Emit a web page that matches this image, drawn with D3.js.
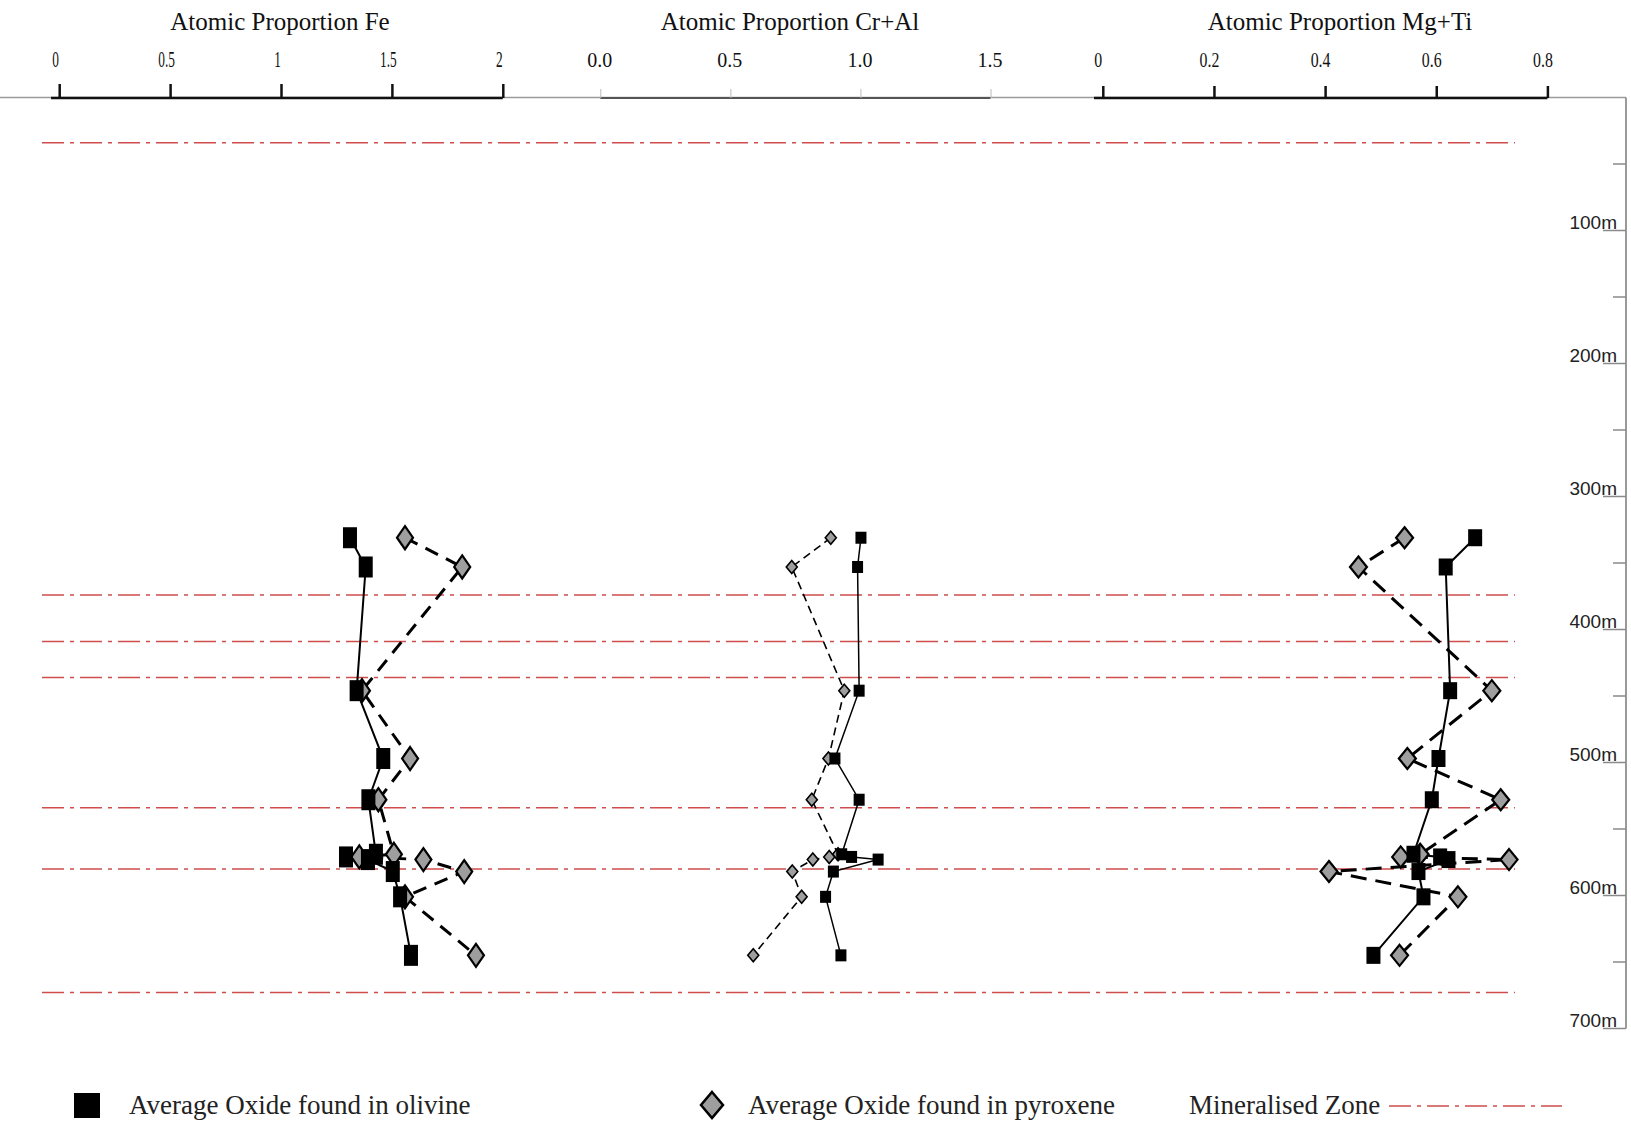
<!DOCTYPE html>
<html><head><meta charset="utf-8">
<script src="https://cdn.jsdelivr.net/npm/d3@7"></script>
<style>
html,body{margin:0;padding:0;background:#fff;}
svg{display:block;}
</style></head>
<body>
<svg id="chart" width="1631" height="1124"></svg>
<script>
// ---- data ----
const depths = [331, 353, 446, 497, 528, 569, 571, 573, 582, 601, 645];
const feOlivine = [1.311, 1.382, 1.341, 1.461, 1.394, 1.428, 1.293, 1.392, 1.504, 1.537, 1.586];
const fePyroxene = [1.559, 1.817, 1.365, 1.582, 1.439, 1.509, 1.353, 1.642, 1.826, 1.559, 1.879];
const crAlOlivine = [1.002, 0.989, 0.995, 0.902, 0.995, 0.928, 0.966, 1.068, 0.896, 0.866, 0.925];
const crAlPyroxene = [0.886, 0.736, 0.938, 0.877, 0.813, 0.914, 0.880, 0.817, 0.738, 0.774, 0.588];
const mgTiOlivine = [0.670, 0.617, 0.625, 0.604, 0.592, 0.559, 0.607, 0.622, 0.568, 0.577, 0.487];
const mgTiPyroxene = [0.543, 0.460, 0.700, 0.548, 0.716, 0.571, 0.536, 0.731, 0.407, 0.639, 0.534];
const mineralisedZones = [34, 374, 409, 436, 534, 580, 673];
const feTicks = [0, 0.5, 1, 1.5, 2];
const crAlTicks = [0, 0.5, 1.0, 1.5];
const mgTiTicks = [0, 0.2, 0.4, 0.6, 0.8];
const depthMajor = [100, 200, 300, 400, 500, 600, 700];
const depthMinor = [50, 150, 250, 350, 450, 550, 650];
const titles = ["Atomic Proportion Fe", "Atomic Proportion Cr+Al", "Atomic Proportion Mg+Ti"];
const legendLabels = ["Average Oxide found in olivine", "Average Oxide found in pyroxene", "Mineralised Zone"];

const svg = d3.select("#chart");
const serif = "'Liberation Serif','Times New Roman',serif";
const sans = "'Liberation Sans',Arial,sans-serif";

const y = d3.scaleLinear().domain([0, 700]).range([97.5, 1028.5]);

const panels = [
  {title: titles[0], scale: d3.scaleLinear().domain([0, 2]).range([59.2, 502.8]), ticks: feTicks,
   fmt: d3.format(""), olivine: feOlivine, pyroxene: fePyroxene, titleX: 280,
   axisStart: 51, axisW: 2.5, axisColor: "#111", tickLen: 14, tickColor: "#111", tickW: 2.5,
   lblSize: 23, lblScale: 0.58, lblDx: -4,
   sq: [14, 21], di: [16, 23], olW: 2, pxW: 3, pxDash: "14,9", diStroke: 2.2},
  {title: titles[1], scale: d3.scaleLinear().domain([0, 1.5]).range([600.3, 990.5]), ticks: crAlTicks,
   fmt: d3.format(".1f"), olivine: crAlOlivine, pyroxene: crAlPyroxene, titleX: 790,
   axisStart: 600.3, axisW: 2, axisColor: "#555", tickLen: 9, tickColor: "#bbb", tickW: 1,
   lblSize: 20, lblScale: 1, lblDx: -1,
   sq: [11, 12], di: [11, 13], olW: 1.5, pxW: 1.6, pxDash: "8,5", diStroke: 1.6},
  {title: titles[2], scale: d3.scaleLinear().domain([0, 0.8]).range([1102.8, 1547.4]), ticks: mgTiTicks,
   fmt: d => d === 0 ? "0" : d.toFixed(1), olivine: mgTiOlivine, pyroxene: mgTiPyroxene, titleX: 1340,
   axisStart: 1094, axisW: 2.5, axisColor: "#111", tickLen: 12, tickColor: "#111", tickW: 2.5,
   lblSize: 22, lblScale: 0.72, lblDx: -5,
   sq: [14, 17], di: [17, 21], olW: 2, pxW: 3, pxDash: "16,9", diStroke: 2.2}
];

// top grey line and right depth axis line
svg.append("line").attr("x1", 0).attr("x2", 1626).attr("y1", y(0)).attr("y2", y(0))
  .attr("stroke", "#9a9a9a").attr("stroke-width", 1.6);
svg.append("line").attr("x1", 1626).attr("x2", 1626).attr("y1", y(0)).attr("y2", y(700))
  .attr("stroke", "#9a9a9a").attr("stroke-width", 2);

// depth axis ticks and labels
const dAxis = svg.append("g");
dAxis.selectAll("line.maj").data(depthMajor).join("line").attr("class", "maj")
  .attr("x1", 1603).attr("x2", 1626).attr("y1", d => y(d)).attr("y2", d => y(d))
  .attr("stroke", "#8a8a8a").attr("stroke-width", 1.5);
dAxis.selectAll("line.min").data(depthMinor).join("line").attr("class", "min")
  .attr("x1", 1613).attr("x2", 1626).attr("y1", d => y(d)).attr("y2", d => y(d))
  .attr("stroke", "#8a8a8a").attr("stroke-width", 1.5);
dAxis.selectAll("text").data(depthMajor).join("text")
  .attr("x", 1617).attr("y", d => y(d) - 2).attr("text-anchor", "end")
  .attr("font-family", sans).attr("font-size", 19).attr("fill", "#222")
  .text(d => d + "m");

// mineralised zones
const dashDot = "22,6,4,6";
svg.append("g").selectAll("line").data(mineralisedZones).join("line")
  .attr("x1", 42).attr("x2", 1515).attr("y1", d => y(d)).attr("y2", d => y(d))
  .attr("stroke", "#cf4d4d").attr("stroke-width", 1.5).attr("stroke-dasharray", dashDot);

panels.forEach(p => {
  const g = svg.append("g");
  // title
  g.append("text").attr("x", p.titleX).attr("y", 30).attr("text-anchor", "middle")
    .attr("font-family", serif).attr("font-size", 25).attr("fill", "#111").text(p.title);
  // axis
  const ax = g.append("g").attr("transform", `translate(0,${y(0) + 0.5})`)
    .call(d3.axisTop(p.scale).tickValues(p.ticks).tickFormat(p.fmt).tickSize(p.tickLen).tickSizeOuter(0));
  ax.select(".domain").remove();
  ax.insert("line", ":first-child").attr("x1", p.axisStart).attr("x2", p.scale.range()[1])
    .attr("stroke", p.axisColor).attr("stroke-width", p.axisW);
  ax.selectAll(".tick line").attr("stroke", p.tickColor).attr("stroke-width", p.tickW);
  ax.selectAll(".tick text")
    .attr("y", 0).attr("dy", 0)
    .attr("transform", `translate(${p.lblDx},${66.5 - y(0) - 0.5}) scale(${p.lblScale},1)`)
    .attr("font-family", serif).attr("font-size", p.lblSize).attr("fill", "#111");

  const ol = depths.map((d, i) => [p.scale(p.olivine[i]), y(d)]);
  const px = depths.map((d, i) => [p.scale(p.pyroxene[i]), y(d)]);
  const line = d3.line();
  g.append("path").attr("d", line(px)).attr("fill", "none").attr("stroke", "#000")
    .attr("stroke-width", p.pxW).attr("stroke-dasharray", p.pxDash);
  g.append("path").attr("d", line(ol)).attr("fill", "none").attr("stroke", "#000")
    .attr("stroke-width", p.olW);
  const [dw, dh] = p.di;
  g.selectAll("path.di").data(px).join("path").attr("class", "di")
    .attr("d", d => `M${d[0]},${d[1] - dh / 2}L${d[0] + dw / 2},${d[1]}L${d[0]},${d[1] + dh / 2}L${d[0] - dw / 2},${d[1]}Z`)
    .attr("fill", "#9e9e9e").attr("stroke", "#000").attr("stroke-width", p.diStroke).attr("stroke-linejoin", "miter");
  const [sw, sh] = p.sq;
  g.selectAll("rect.sq").data(ol).join("rect").attr("class", "sq")
    .attr("x", d => d[0] - sw / 2).attr("y", d => d[1] - sh / 2).attr("width", sw).attr("height", sh)
    .attr("fill", "#000");
});

// legend
const lg = svg.append("g");
const lgBase = 1114;
lg.append("rect").attr("x", 74).attr("y", 1093).attr("width", 26).attr("height", 25).attr("fill", "#000");
lg.append("text").attr("x", 129).attr("y", lgBase).attr("font-family", serif).attr("font-size", 27)
  .attr("fill", "#222").text(legendLabels[0]);
const lcx = 712, lcy = 1105;
lg.append("path").attr("d", `M${lcx},${lcy - 13}L${lcx + 11},${lcy}L${lcx},${lcy + 13}L${lcx - 11},${lcy}Z`)
  .attr("fill", "#9e9e9e").attr("stroke", "#000").attr("stroke-width", 2.5);
lg.append("text").attr("x", 748).attr("y", lgBase).attr("font-family", serif).attr("font-size", 27)
  .attr("fill", "#222").text(legendLabels[1]);
lg.append("text").attr("x", 1189).attr("y", lgBase).attr("font-family", serif).attr("font-size", 27)
  .attr("fill", "#222").text(legendLabels[2]);
lg.append("line").attr("x1", 1389).attr("x2", 1562).attr("y1", 1106).attr("y2", 1106)
  .attr("stroke", "#cf4d4d").attr("stroke-width", 1.5).attr("stroke-dasharray", dashDot);
</script>
</body></html>
